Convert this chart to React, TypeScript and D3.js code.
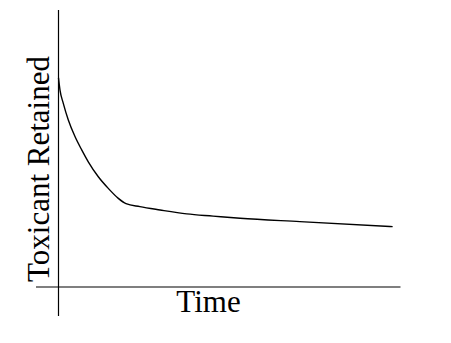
import React from "react";
import * as d3 from "d3";

const timeValues = [0, 0.44, 1.4, 2.87, 4.82, 6.78, 8.71, 11.64, 14.56, 17.49, 19.74, 23.8, 29.7, 37.5, 45.2, 53.1, 70.6, 97.7];
const retainedValues = [75.5, 71.1, 66.3, 60.3, 54.3, 49.5, 45.2, 39.8, 35.6, 32.0, 30.1, 29.0, 27.8, 26.4, 25.6, 24.8, 23.6, 21.8];
const xLabel = "Time";
const yLabel = "Toxicant Retained";

const W = 451;
const H = 343;

export default function App() {
  const x = d3.scaleLinear().domain([0, 100]).range([58.5, 400.5]);
  const y = d3.scaleLinear().domain([0, 100]).range([287, 10]);
  const pts: [number, number][] = timeValues.map((t, i) => [t, retainedValues[i]]);
  const line = d3
    .line<[number, number]>()
    .x((d) => x(d[0]))
    .y((d) => y(d[1]))
    .curve(d3.curveMonotoneX);
  const font = "'Liberation Serif', 'Times New Roman', serif";
  return (
    <svg
      width={W}
      height={H}
      style={{ position: "absolute", left: 0, top: 0, background: "#fff" }}
    >
      <line x1={x(0)} x2={x(0)} y1={y(100)} y2={316} stroke="#000" strokeWidth={1.2} />
      <line x1={36} x2={x(100)} y1={y(0)} y2={y(0)} stroke="#000" strokeWidth={1.2} />
      <path d={line(pts) || ""} fill="none" stroke="#000" strokeWidth={1.4} />
      <text x={208.5} y={312} textAnchor="middle" fontFamily={font} fontSize={31} fill="#000">
        {xLabel}
      </text>
      <text
        transform={`translate(49,169) rotate(-90)`}
        textAnchor="middle"
        fontFamily={font}
        fontSize={31}
        fill="#000"
      >
        {yLabel}
      </text>
    </svg>
  );
}
